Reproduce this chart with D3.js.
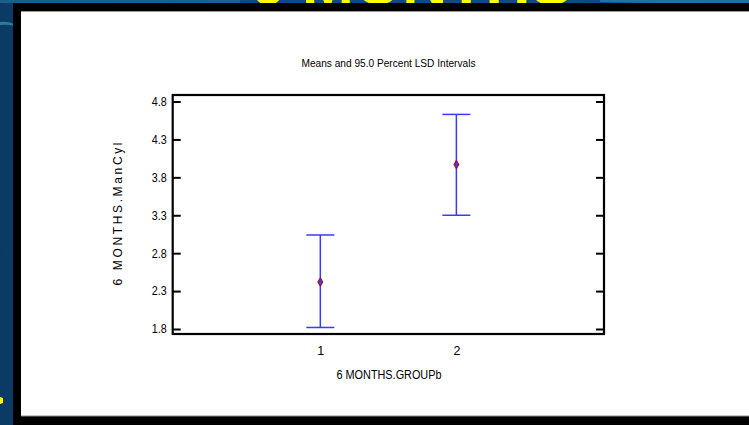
<!DOCTYPE html>
<html>
<head>
<meta charset="utf-8">
<script src="https://cdn.jsdelivr.net/npm/d3@7"></script>
<style>
  html, body { margin: 0; padding: 0; background: #0b3b6a; }
  svg { display: block; }
  text { font-family: "Liberation Sans Narrow", "Liberation Sans", Arial, sans-serif; }
</style>
</head>
<body>
<svg id="chart" width="749" height="425"></svg>
<script>
// Group means of ManCyl at six months with 95% LSD interval limits
const groups = [1, 2];
const means = [2.42, 3.97];
const lower = [1.82, 3.30];
const upper = [3.04, 4.63];
const yTicks = [1.8, 2.3, 2.8, 3.3, 3.8, 4.3, 4.8];
const xTicks = [1, 2];

const chartTitle = "Means and 95.0 Percent LSD Intervals";
const xLabel = "6 MONTHS.GROUPb";
const yLabel = "6 MONTHS.ManCyl";
const slideTitle = "6 MONTHS";

const W = 749, H = 425;
const svg = d3.select("#chart");

// slide background
const defs = svg.append("defs");
const bg = defs.append("linearGradient").attr("id", "bg").attr("x1", 0).attr("x2", 1).attr("y1", 0).attr("y2", 0);
bg.append("stop").attr("offset", "0%").attr("stop-color", "#0c3a66");
bg.append("stop").attr("offset", "40%").attr("stop-color", "#0f4a86");
bg.append("stop").attr("offset", "100%").attr("stop-color", "#0d4a84");
svg.append("rect").attr("width", W).attr("height", H).attr("fill", "url(#bg)");
svg.append("path").attr("d", "M0,22 Q8,21 14,24 L14,26 Q8,24 0,25 Z").attr("fill", "#2e8fa8").attr("opacity", 0.8);
svg.append("path").attr("d", "M0,0 L240,0 L240,3 Q120,5 0,3 Z").attr("fill", "#1f6f96").attr("opacity", 0.7);
svg.append("path").attr("d", "M600,0 L749,0 L749,3 Q680,4 600,2 Z").attr("fill", "#2a86a6").attr("opacity", 0.7);

// slide heading, mostly hidden behind the chart panel
svg.append("text")
  .attr("x", 411).attr("y", 3.6)
  .attr("text-anchor", "middle")
  .attr("textLength", 322).attr("lengthAdjust", "spacingAndGlyphs")
  .style("font-family", "'Liberation Sans', Arial, sans-serif")
  .style("font-weight", "bold").style("font-size", "62px")
  .attr("fill", "#ffff00")
  .text(slideTitle);

svg.append("path").attr("d", "M0,397 L3,398 L3,403 L0,404 Z").attr("fill", "#ffff00");

// chart panel
svg.append("rect").attr("x", 13).attr("y", 3).attr("width", W - 13).attr("height", H - 3).attr("fill", "#000");
svg.append("rect").attr("x", 21).attr("y", 11).attr("width", W - 21).attr("height", 405).attr("fill", "#fff");
svg.append("line").attr("x1", 21).attr("x2", W).attr("y1", 11.5).attr("y2", 11.5).attr("stroke", "#9a9a9a").attr("stroke-width", 1);
svg.append("line").attr("x1", 21).attr("x2", W).attr("y1", 416).attr("y2", 416).attr("stroke", "#8a8a8a").attr("stroke-width", 1);

// plot area
const plot = { left: 172.7, right: 604, top: 95, bottom: 334 };
const x = d3.scaleLinear().domain([-0.085, 3.085]).range([plot.left, plot.right]);
const y = d3.scaleLinear().domain([1.734, 4.886]).range([plot.bottom, plot.top]);

const fmt = d3.format(".1f");

const gLeft = svg.append("g").attr("transform", `translate(${plot.left},0)`)
  .call(d3.axisLeft(y).tickValues(yTicks).tickFormat(fmt).tickSizeInner(-8).tickSizeOuter(0).tickPadding(6));
const gRight = svg.append("g").attr("transform", `translate(${plot.right},0)`)
  .call(d3.axisRight(y).tickValues(yTicks).tickFormat("").tickSizeInner(-8).tickSizeOuter(0));
const gBottom = svg.append("g").attr("transform", `translate(0,${plot.bottom})`)
  .call(d3.axisBottom(x).tickValues(xTicks).tickFormat(d3.format("d")).tickSize(0).tickPadding(12));

[gLeft, gRight, gBottom].forEach(g => {
  g.select(".domain").remove();
  g.selectAll(".tick line").attr("stroke", "#000").attr("stroke-width", 2);
  g.selectAll("text").attr("fill", "#000").style("font-size", "12px")
    .style("font-family", "'Liberation Sans', Arial, sans-serif");
});
gLeft.selectAll("text").attr("textLength", 15).attr("lengthAdjust", "spacingAndGlyphs");
gBottom.selectAll("text").style("font-size", "12.5px");

// frame
svg.append("rect")
  .attr("x", plot.left).attr("y", plot.top)
  .attr("width", plot.right - plot.left).attr("height", plot.bottom - plot.top)
  .attr("fill", "none").attr("stroke", "#000").attr("stroke-width", 2.2);

// LSD intervals
const rows = groups.map((g, i) => ({ g, mean: means[i], lo: lower[i], hi: upper[i] }));
const cap = 14;
const blue = "#3a3af8";
const bars = svg.append("g");
bars.selectAll("line.stem").data(rows).join("line").attr("class", "stem")
  .attr("x1", d => x(d.g)).attr("x2", d => x(d.g))
  .attr("y1", d => y(d.hi)).attr("y2", d => y(d.lo))
  .attr("stroke", blue).attr("stroke-width", 1.5);
bars.selectAll("line.top").data(rows).join("line").attr("class", "top")
  .attr("x1", d => x(d.g) - cap).attr("x2", d => x(d.g) + cap)
  .attr("y1", d => y(d.hi)).attr("y2", d => y(d.hi))
  .attr("stroke", blue).attr("stroke-width", 1.5);
bars.selectAll("line.bot").data(rows).join("line").attr("class", "bot")
  .attr("x1", d => x(d.g) - cap).attr("x2", d => x(d.g) + cap)
  .attr("y1", d => y(d.lo)).attr("y2", d => y(d.lo))
  .attr("stroke", blue).attr("stroke-width", 1.5);
bars.selectAll("path.mean").data(rows).join("path").attr("class", "mean")
  .attr("transform", d => `translate(${x(d.g)},${y(d.mean)})`)
  .attr("d", d3.symbol(d3.symbolDiamond, 20)())
  .attr("fill", "#4a3ae0").attr("stroke", "#a01030").attr("stroke-width", 1.1);

// titles
svg.append("text")
  .attr("x", 388.5).attr("y", 67)
  .attr("text-anchor", "middle")
  .attr("textLength", 174).attr("lengthAdjust", "spacingAndGlyphs")
  .style("font-size", "11.5px").attr("fill", "#000")
  .text(chartTitle);

svg.append("text")
  .attr("x", 389).attr("y", 379)
  .attr("text-anchor", "middle")
  .attr("textLength", 105).attr("lengthAdjust", "spacingAndGlyphs")
  .style("font-size", "12px").attr("fill", "#000")
  .text(xLabel);

svg.append("text")
  .attr("transform", "translate(122,214) rotate(-90)")
  .attr("text-anchor", "middle")
  .attr("textLength", 143).attr("lengthAdjust", "spacing")
  .style("font-size", "12px")
  .style("font-family", "'Liberation Sans', Arial, sans-serif")
  .attr("fill", "#000")
  .text(yLabel);
</script>
</body>
</html>
